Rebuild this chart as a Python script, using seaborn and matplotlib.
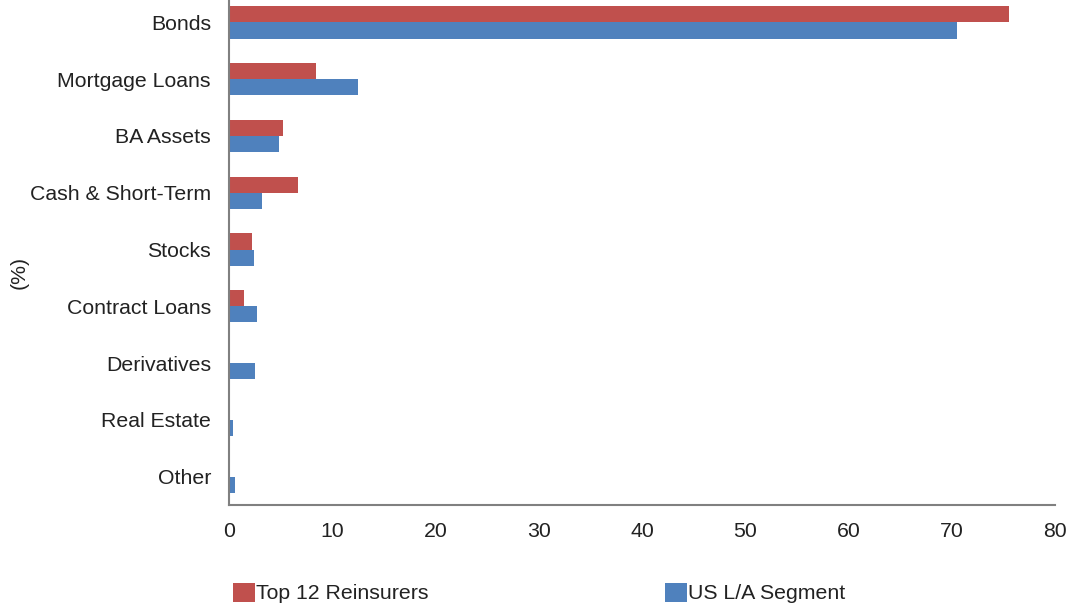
import matplotlib
matplotlib.use("Agg")
import matplotlib.pyplot as plt
import seaborn as sns
import pandas as pd
from matplotlib.patches import Patch

categories = ["Bonds", "Mortgage Loans", "BA Assets", "Cash & Short-Term", "Stocks",
              "Contract Loans", "Derivatives", "Real Estate", "Other"]
top12 = [75.5, 8.45, 5.2, 6.7, 2.25, 1.5, 0.0, 0.0, 0.0]
us_la = [70.5, 12.45, 4.85, 3.2, 2.45, 2.75, 2.5, 0.4, 0.6]
series_names = ["Top 12 Reinsurers", "US L/A Segment"]
colors = ["#C0504D", "#4F81BD"]
xticks = [0, 10, 20, 30, 40, 50, 60, 70, 80]

df = pd.DataFrame({
    "category": categories * 2,
    "value": top12 + us_la,
    "series": [series_names[0]] * len(categories) + [series_names[1]] * len(categories),
})

sns.set_theme(style="white")
plt.rcParams["font.family"] = ["Liberation Sans", "DejaVu Sans"]

fig = plt.figure(figsize=(10.73, 6.07), dpi=100)
ax = fig.add_axes([229 / 1073, 1 - 505 / 607, 826 / 1073, 511 / 607])

sns.barplot(data=df, y="category", x="value", hue="series", order=categories,
            hue_order=series_names, palette=colors, orient="h", width=0.57,
            linewidth=0, saturation=1, ax=ax, legend=False)

ax.set_xlim(0, 80)
ax.set_ylim(8.5, -0.5)
ax.set_xticks(xticks)
ax.set_xticklabels([str(t) for t in xticks])
ax.tick_params(axis="x", length=0, pad=12, labelsize=15.3, labelcolor="#222222")
ax.tick_params(axis="y", length=0, pad=13, labelsize=15.3, labelcolor="#222222")
ax.set_xlabel("")
ax.set_ylabel("(%)", fontsize=15.3, color="#222222")
ax.yaxis.set_label_coords(-0.243, 0.456)

for side in ["top", "right"]:
    ax.spines[side].set_visible(False)
for side in ["left", "bottom"]:
    ax.spines[side].set_color("#808080")
    ax.spines[side].set_linewidth(1.5)

for i, (name, col) in enumerate(zip(series_names, colors)):
    xpos = [233 / 1073, 665 / 1073][i]
    fig.legend(handles=[Patch(facecolor=col, edgecolor="none", label=name)],
               loc="center left", bbox_to_anchor=(xpos, 1 - 593 / 607),
               frameon=False, fontsize=15.3, handlelength=1.03, handleheight=1.03,
               handletextpad=0.05, borderpad=0, borderaxespad=0,
               labelcolor="#222222")

fig.savefig("out.png", dpi=100)
